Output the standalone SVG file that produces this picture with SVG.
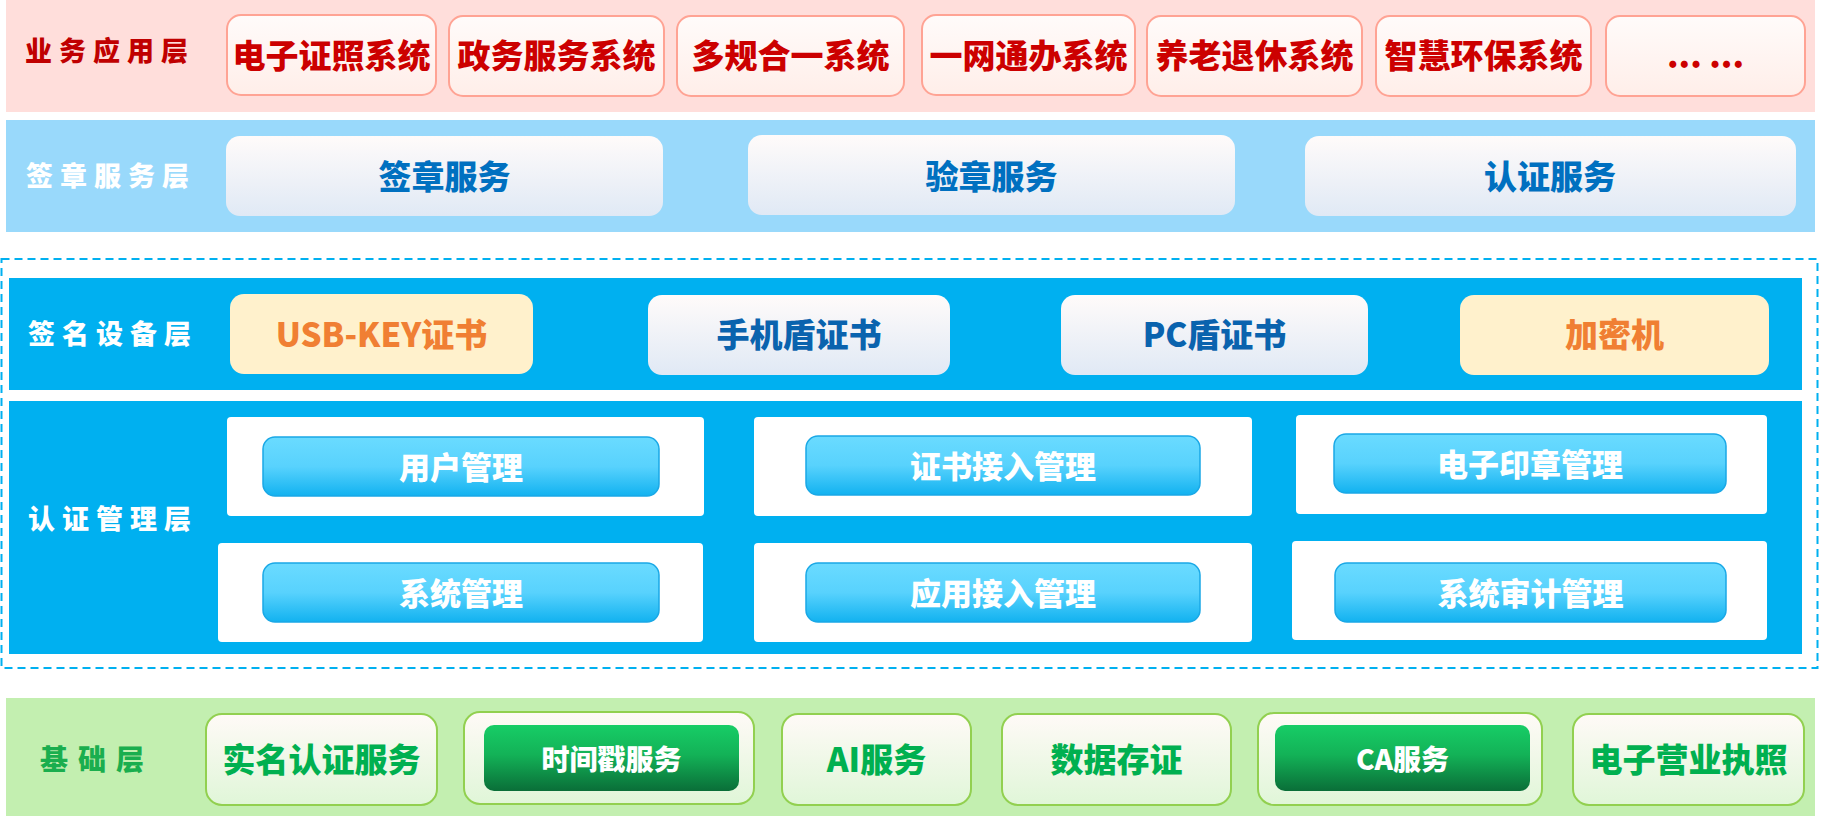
<svg xmlns="http://www.w3.org/2000/svg" width="1821" height="819" viewBox="0 0 1821 819">
<defs>
<linearGradient id="gRed" x1="0" y1="0" x2="0" y2="1"><stop offset="0" stop-color="#FFFBFA"/><stop offset="1" stop-color="#FFEEE9"/></linearGradient>
<linearGradient id="gBlue" x1="0" y1="0" x2="0" y2="1"><stop offset="0" stop-color="#FFFBFA"/><stop offset="1" stop-color="#E0E9F5"/></linearGradient>
<linearGradient id="gBtn" x1="0" y1="0" x2="0" y2="1"><stop offset="0" stop-color="#6ADBFF"/><stop offset="0.5" stop-color="#58D2FD"/><stop offset="1" stop-color="#12B2F0"/></linearGradient>
<linearGradient id="gGreen" x1="0" y1="0" x2="0" y2="1"><stop offset="0" stop-color="#FFFAF7"/><stop offset="1" stop-color="#E0F6D8"/></linearGradient>
<linearGradient id="gGreenBtn" x1="0" y1="0" x2="0" y2="1"><stop offset="0" stop-color="#17CD66"/><stop offset="0.45" stop-color="#13B257"/><stop offset="1" stop-color="#0A6E38"/></linearGradient>
</defs>
<style>
text{font-family:"Noto Sans CJK SC","Noto Sans",sans-serif;font-weight:900}
.lbl{font-size:27px;letter-spacing:7px}
.t33{font-size:33px;text-anchor:middle}
.t31{font-size:31px;text-anchor:middle;fill:#FFFFFF}
.t28{font-size:28px;text-anchor:middle;fill:#FFFFFF}
.redBox{fill:url(#gRed);stroke:#FFA394;stroke-width:2}
.redTxt{fill:#CC0000}
.blueBox{fill:url(#gBlue)}
.blueTxt{fill:#0070C0}
.devTxt{fill:#0A63AE}
.yelBox{fill:#FFF1CC}
.orgTxt{fill:#F07F33}
.panel{fill:#FFFFFF}
.btn{fill:url(#gBtn);stroke:#1AA8E6;stroke-width:1.5}
.grnBox{fill:url(#gGreen);stroke:#92D050;stroke-width:2}
.grnTxt{fill:#00B050}
.grnBtn{fill:url(#gGreenBtn)}
</style>

<!-- layer backgrounds -->
<g id="bands">
<rect x="6" y="0" width="1809" height="112" fill="#FFDEDB"/>
<rect x="6" y="120" width="1809" height="112" fill="#99D9FB"/>
<rect x="1.5" y="259" width="1816" height="409" fill="none" stroke="#00B0F0" stroke-width="2" stroke-dasharray="8 5"/>
<rect x="9" y="278" width="1793" height="112" fill="#00B0F0"/>
<rect x="9" y="401" width="1793" height="253" fill="#00B0F0"/>
<rect x="6" y="698" width="1809" height="118" fill="#C3EFB0"/>
</g>

<g id="labels">
<text class="lbl" x="25" y="61" fill="#C00000">业务应用层</text>
<text class="lbl" x="26" y="186" fill="#FFFFFF">签章服务层</text>
<text class="lbl" x="28" y="344" fill="#FFFFFF">签名设备层</text>
<text class="lbl" x="28" y="529" fill="#FFFFFF">认证管理层</text>
<text class="lbl" x="40" y="770" fill="#1AAE4E" style="font-size:28px;letter-spacing:10px">基础层</text>
</g>

<!-- 业务应用层 -->
<g id="app1"><rect class="redBox" x="227" y="15" width="209" height="80" rx="14"/><text class="t33 redTxt" x="331.5" y="67.5">电子证照系统</text></g>
<g id="app2"><rect class="redBox" x="449" y="16" width="215" height="80" rx="14"/><text class="t33 redTxt" x="556.5" y="67.5">政务服务系统</text></g>
<g id="app3"><rect class="redBox" x="677" y="16" width="227" height="80" rx="14"/><text class="t33 redTxt" x="790.5" y="67.5">多规合一系统</text></g>
<g id="app4"><rect class="redBox" x="922" y="15" width="213" height="80" rx="14"/><text class="t33 redTxt" x="1028.5" y="67.5">一网通办系统</text></g>
<g id="app5"><rect class="redBox" x="1147" y="16" width="215" height="80" rx="14"/><text class="t33 redTxt" x="1254.5" y="67.5">养老退休系统</text></g>
<g id="app6"><rect class="redBox" x="1376" y="16" width="215" height="80" rx="14"/><text class="t33 redTxt" x="1483.5" y="67.5">智慧环保系统</text></g>
<g id="app7"><rect class="redBox" x="1606" y="16" width="199" height="80" rx="14"/><text class="t33 redTxt" x="1705.5" y="67.5">... ...</text></g>

<!-- 签章服务层 -->
<g id="sig1"><rect class="blueBox" x="226" y="136" width="437" height="80" rx="14"/><text class="t33 blueTxt" x="444.5" y="188.5">签章服务</text></g>
<g id="sig2"><rect class="blueBox" x="748" y="135" width="487" height="80" rx="14"/><text class="t33 blueTxt" x="991.5" y="188.5">验章服务</text></g>
<g id="sig3"><rect class="blueBox" x="1305" y="136" width="491" height="80" rx="14"/><text class="t33 blueTxt" x="1550" y="188.5">认证服务</text></g>

<!-- 签名设备层 -->
<g id="dev1"><rect class="yelBox" x="230" y="294" width="303" height="80" rx="14"/><text class="t33 orgTxt" x="381.5" y="346.5">USB-KEY证书</text></g>
<g id="dev2"><rect class="blueBox" x="648" y="295" width="302" height="80" rx="14"/><text class="t33 devTxt" x="799" y="346.5">手机盾证书</text></g>
<g id="dev3"><rect class="blueBox" x="1061" y="295" width="307" height="80" rx="14"/><text class="t33 devTxt" x="1214.5" y="346.5">PC盾证书</text></g>
<g id="dev4"><rect class="yelBox" x="1460" y="295" width="309" height="80" rx="14"/><text class="t33 orgTxt" x="1614.5" y="346.5">加密机</text></g>

<!-- 认证管理层 -->
<g id="mgr1"><rect class="panel" x="227" y="417" width="477" height="99" rx="4"/><rect class="btn" x="263" y="437" width="396" height="59" rx="12"/><text class="t31" x="461" y="478.5">用户管理</text></g>
<g id="mgr2"><rect class="panel" x="754" y="417" width="498" height="99" rx="4"/><rect class="btn" x="806" y="436" width="394" height="59" rx="12"/><text class="t31" x="1003" y="477.5">证书接入管理</text></g>
<g id="mgr3"><rect class="panel" x="1296" y="415" width="471" height="99" rx="4"/><rect class="btn" x="1334" y="434" width="392" height="59" rx="12"/><text class="t31" x="1530" y="475.5">电子印章管理</text></g>
<g id="mgr4"><rect class="panel" x="218" y="543" width="485" height="99" rx="4"/><rect class="btn" x="263" y="563" width="396" height="59" rx="12"/><text class="t31" x="461" y="604.5">系统管理</text></g>
<g id="mgr5"><rect class="panel" x="754" y="543" width="498" height="99" rx="4"/><rect class="btn" x="806" y="563" width="394" height="59" rx="12"/><text class="t31" x="1003" y="604.5">应用接入管理</text></g>
<g id="mgr6"><rect class="panel" x="1292" y="541" width="475" height="99" rx="4"/><rect class="btn" x="1335" y="563" width="391" height="59" rx="12"/><text class="t31" x="1530.5" y="604.5">系统审计管理</text></g>

<!-- 基础层 -->
<g id="base1"><rect class="grnBox" x="206" y="714" width="231" height="91" rx="16"/><text class="t33 grnTxt" x="321.5" y="772">实名认证服务</text></g>
<g id="base2"><rect class="grnBox" x="464" y="712" width="290" height="92" rx="16"/><rect class="grnBtn" x="484" y="725" width="255" height="66" rx="10"/><text class="t28" x="611.5" y="769.5">时间戳服务</text></g>
<g id="base3"><rect class="grnBox" x="782" y="714" width="189" height="91" rx="16"/><text class="t33 grnTxt" x="876.5" y="772">AI服务</text></g>
<g id="base4"><rect class="grnBox" x="1002" y="714" width="229" height="91" rx="16"/><text class="t33 grnTxt" x="1116.5" y="772">数据存证</text></g>
<g id="base5"><rect class="grnBox" x="1258" y="713" width="284" height="92" rx="16"/><rect class="grnBtn" x="1275" y="725" width="255" height="66" rx="10"/><text class="t28" x="1402.5" y="769.5">CA服务</text></g>
<g id="base6"><rect class="grnBox" x="1573" y="714" width="231" height="91" rx="16"/><text class="t33 grnTxt" x="1688.5" y="772">电子营业执照</text></g>

<g id="connectors"></g>
</svg>
